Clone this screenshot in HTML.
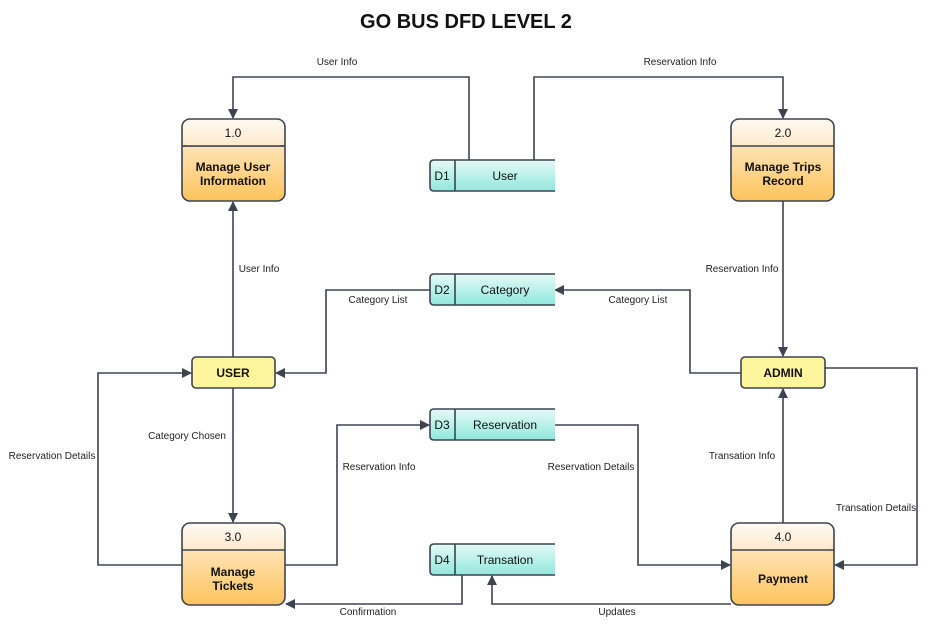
<!DOCTYPE html>
<html><head><meta charset="utf-8"><style>
body{margin:0;background:#fff;width:932px;height:628px;overflow:hidden}
text{font-family:"Liberation Sans",sans-serif}
</style></head><body>
<svg width="932" height="628" viewBox="0 0 932 628" xmlns="http://www.w3.org/2000/svg">
<defs>
<linearGradient id="og" x1="0" y1="0" x2="0" y2="1"><stop offset="0" stop-color="#fff3e0"/><stop offset="1" stop-color="#fdc35c"/></linearGradient>
<linearGradient id="hg" x1="0" y1="0" x2="0" y2="1"><stop offset="0" stop-color="#fffaf2"/><stop offset="1" stop-color="#fde9cc"/></linearGradient>
<linearGradient id="tg" x1="0" y1="0" x2="0" y2="1"><stop offset="0" stop-color="#e6faf7"/><stop offset="1" stop-color="#8fe8dc"/></linearGradient>
<marker id="a" markerWidth="10" markerHeight="10" refX="9" refY="5" orient="auto" markerUnits="userSpaceOnUse"><path d="M0,0 L10,5 L0,10 z" fill="#3d4450"/></marker>
</defs>
<text x="466" y="28" text-anchor="middle" font-size="20" font-weight="bold" fill="#111">GO BUS DFD LEVEL 2</text>
<g fill="none" stroke="#3d4450" stroke-width="1.6">
<path d="M469,160 V77 H233 V118" marker-end="url(#a)"/>
<path d="M534,160 V77 H783 V118" marker-end="url(#a)"/>
<path d="M233,357 V202" marker-end="url(#a)"/>
<path d="M783,201 V356" marker-end="url(#a)"/>
<path d="M430,290 H326 V373 H276" marker-end="url(#a)"/>
<path d="M741,373 H690 V290 H555" marker-end="url(#a)"/>
<path d="M233,388 V522" marker-end="url(#a)"/>
<path d="M182,565 H98 V373 H191" marker-end="url(#a)"/>
<path d="M285,565 H337 V425 H429" marker-end="url(#a)"/>
<path d="M554,425 H638 V565 H730" marker-end="url(#a)"/>
<path d="M783,523 V389" marker-end="url(#a)"/>
<path d="M825,368 H917 V565 H835" marker-end="url(#a)"/>
<path d="M462,575 V604 H286" marker-end="url(#a)"/>
<path d="M731,604 H492 V576" marker-end="url(#a)"/>
</g>
<g font-size="10" fill="#222" text-anchor="middle">
<rect x="310" y="55" width="56" height="13" fill="#fff"/><text x="337" y="65">User Info</text>
<text x="680" y="65">Reservation Info</text>
<rect x="236" y="262" width="46" height="13" fill="#fff"/><text x="259" y="272">User Info</text>
<rect x="704" y="262" width="76" height="13" fill="#fff"/><text x="742" y="272">Reservation Info</text>
<text x="378" y="303">Category List</text>
<text x="638" y="303">Category List</text>
<rect x="146" y="429" width="82" height="13" fill="#fff"/><text x="187" y="439">Category Chosen</text>
<rect x="8" y="449" width="88" height="13" fill="#fff"/><text x="52" y="459">Reservation Details</text>
<text x="379" y="470">Reservation Info</text>
<text x="591" y="470">Reservation Details</text>
<rect x="708" y="449" width="72" height="13" fill="#fff"/><text x="742" y="459">Transation Info</text>
<rect x="836" y="501" width="80" height="13" fill="#fff"/><text x="876" y="511">Transation Details</text>
<text x="368" y="615">Confirmation</text>
<text x="617" y="615">Updates</text>
</g>
<g stroke="#3d4450" stroke-width="1.6">
<g>
<rect x="182" y="119" width="103" height="82" rx="8" fill="url(#og)"/>
<path d="M183,146 H284" /><rect x="183" y="120" width="101" height="26" rx="7" fill="url(#hg)" stroke="none"/>
<path d="M182,146 H285"/>
</g>
<g>
<rect x="731" y="119" width="103" height="82" rx="8" fill="url(#og)"/>
<rect x="732" y="120" width="101" height="26" rx="7" fill="url(#hg)" stroke="none"/>
<path d="M731,146 H834"/>
</g>
<g>
<rect x="182" y="523" width="103" height="82" rx="8" fill="url(#og)"/>
<rect x="183" y="524" width="101" height="26" rx="7" fill="url(#hg)" stroke="none"/>
<path d="M182,550 H285"/>
</g>
<g>
<rect x="731" y="523" width="103" height="82" rx="8" fill="url(#og)"/>
<rect x="732" y="524" width="101" height="26" rx="7" fill="url(#hg)" stroke="none"/>
<path d="M731,550 H834"/>
</g>
<rect x="192" y="357" width="83" height="31" rx="4" fill="#fff59d"/>
<rect x="741" y="357" width="84" height="31" rx="4" fill="#fff59d"/>
</g>
<g stroke="#3d4450" stroke-width="1.6" fill="url(#tg)">
<path d="M555,160 H434 Q430,160 430,164 V187 Q430,191 434,191 H555 Z" stroke="none"/>
<path d="M555,160 H434 Q430,160 430,164 V187 Q430,191 434,191 H555 M455,160 V191" fill="none"/>
<path d="M555,274 H434 Q430,274 430,278 V301 Q430,305 434,305 H555 Z" stroke="none"/>
<path d="M555,274 H434 Q430,274 430,278 V301 Q430,305 434,305 H555 M455,274 V305" fill="none"/>
<path d="M555,409 H434 Q430,409 430,413 V436 Q430,440 434,440 H555 Z" stroke="none"/>
<path d="M555,409 H434 Q430,409 430,413 V436 Q430,440 434,440 H555 M455,409 V440" fill="none"/>
<path d="M555,544 H434 Q430,544 430,548 V571 Q430,575 434,575 H555 Z" stroke="none"/>
<path d="M555,544 H434 Q430,544 430,548 V571 Q430,575 434,575 H555 M455,544 V575" fill="none"/>
</g>
<g font-size="12" fill="#111" text-anchor="middle">
<text x="233" y="137">1.0</text><text x="783" y="137">2.0</text>
<text x="233" y="541">3.0</text><text x="783" y="541">4.0</text>
<g font-weight="bold" font-size="12">
<text x="233" y="171">Manage User</text><text x="233" y="185">Information</text>
<text x="783" y="171">Manage Trips</text><text x="783" y="185">Record</text>
<text x="233" y="576">Manage</text><text x="233" y="590">Tickets</text>
<text x="783" y="583">Payment</text>
<text x="233" y="377">USER</text><text x="783" y="377">ADMIN</text>
</g>
<text x="442" y="180">D1</text><text x="505" y="180">User</text>
<text x="442" y="294">D2</text><text x="505" y="294">Category</text>
<text x="442" y="429">D3</text><text x="505" y="429">Reservation</text>
<text x="442" y="564">D4</text><text x="505" y="564">Transation</text>
</g>
</svg>
</body></html>
